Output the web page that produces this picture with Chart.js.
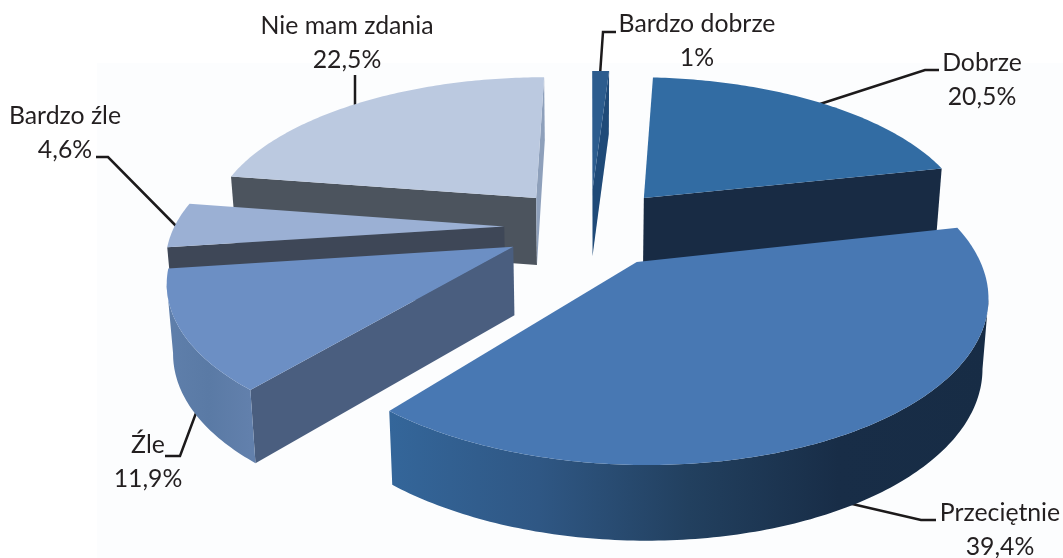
<!DOCTYPE html>
<html><head><meta charset="utf-8">
<style>html,body{margin:0;padding:0;background:#fff}#w{width:1063px;height:558px;position:relative}</style>
<script src="https://cdn.jsdelivr.net/npm/chart.js@4"></script>
</head><body><div id="w"><canvas id="c" width="1063" height="558"></canvas></div>
<script>
const categories = ["Bardzo dobrze","Dobrze","Przeciętnie","Źle","Bardzo źle","Nie mam zdania"];
const values = [1, 20.5, 39.4, 11.9, 4.6, 22.5];
const valueLabels = ["1%","20,5%","39,4%","11,9%","4,6%","22,5%"];
const topColors = ["#2c5c8e","#326ca3","#4878b3","#6c8fc4","#9bb0d4","#bbc9e0"];
const startWallColors = ["#1f4a78","#182b44","#1a3049","#4a5e7f","#3e4757","#4c545e"];
const endWallColors = ["#1f4a78","#182b44","#1a3049","#4a5e7f","#3e4757","#8ea0bb"];
const arcWallStops = [
  ["#2c5c8e","#2c5c8e"],["#1a3049","#1a3049"],
  ["#34669a","#2f5784","#22405f","#182d47","#172c45"],
  ["#5f7fab","#5a7aa5","#6280ac"],["#8096b8","#8096b8"],["#8ea0bb","#8ea0bb"]];
const drawOrder = [0,5,1,4,3,2];
// label layout: text centre x, first line baseline y, leader polyline
const labelX = [697,982,1000,148,65,347];
const labelY = [32,71,521,453,124,34];
const leaders = [
  [[600,75],[603,32],[616,32]],
  [[820,104],[925,70],[939,70]],
  [[835,500],[921,520],[936,520]],
  [[202,397],[180,456],[165,456]],
  [[182,232],[108,157],[96,157]],
  [[355,105],[355,75]]];

// projection of the pie disc
const cx=590, cy=227, R=330, RY=152, K=0.18, EXPLODE=0.26, DEPTH=68, SHRINK=0.985;
function proj(X,Y){const s=1/(1-K*Y);return {x:cx+R*X*s,y:cy+RY*Y*s,s};}
function low(p){return {x:cx+(p.x-cx)*SHRINK,y:p.y+DEPTH*(1+(p.s-1)*0.4)};}

const pie3d={id:'pie3d',
 beforeDatasetsDraw(chart){
  const ctx=chart.ctx, arcs=chart.getDatasetMeta(0).data;
  ctx.save();
  ctx.fillStyle='#fcfdfe'; ctx.fillRect(97,63,966,495);
  ctx.strokeStyle='#1c1a1b';ctx.lineWidth=2.5;ctx.lineJoin='miter';
  leaders.forEach(l=>{ctx.beginPath();l.forEach((p,j)=>j?ctx.lineTo(p[0],p[1]):ctx.moveTo(p[0],p[1]));ctx.stroke();});
  drawOrder.forEach(i=>{
    const a=arcs[i];
    const t0=a.startAngle+Math.PI/2, t1=a.endAngle+Math.PI/2, m=(t0+t1)/2;
    const ox=EXPLODE*Math.sin(m), oy=-EXPLODE*Math.cos(m);
    const apex=proj(ox,oy), rim=[], n=Math.max(4,Math.ceil((t1-t0)/0.015));
    for(let k=0;k<=n;k++){const t=t0+(t1-t0)*k/n;rim.push(proj(ox+Math.sin(t),oy-Math.cos(t)));}
    const xs=rim.map(p=>p.x), minX=Math.min(...xs), maxX=Math.max(...xs);
    const g=ctx.createLinearGradient(minX,0,maxX,0);
    const st=arcWallStops[i]; st.forEach((c,j)=>g.addColorStop(j/(st.length-1),c));
    const band=(pts,fill)=>{ctx.beginPath();pts.forEach((p,j)=>j?ctx.lineTo(p.x,p.y):ctx.moveTo(p.x,p.y));pts.slice().reverse().forEach(p=>{const l=low(p);ctx.lineTo(l.x,l.y);});ctx.closePath();ctx.fillStyle=fill;ctx.fill();};
    // only faces looking at the viewer
    if(rim[0].x<apex.x) band([apex,rim[0]],startWallColors[i]);
    let run=[];
    for(let k=0;k<n;k++){
      if(rim[k+1].x<rim[k].x){ if(!run.length) run.push(rim[k]); run.push(rim[k+1]); }
      else if(run.length){ band(run,g); run=[]; }
    }
    if(run.length) band(run,g);
    if(apex.x<rim[n].x) band([rim[n],apex],endWallColors[i]);
    ctx.beginPath();ctx.moveTo(apex.x,apex.y);rim.forEach(p=>ctx.lineTo(p.x,p.y));ctx.closePath();
    ctx.fillStyle=topColors[i];ctx.fill();
  });
  ctx.fillStyle='#231f20';ctx.font='24.8px Lato, Carlito, sans-serif';ctx.textAlign='center';ctx.textBaseline='alphabetic';
  categories.forEach((c,i)=>{ctx.fillText(c,labelX[i],labelY[i]);ctx.fillText(valueLabels[i],labelX[i],labelY[i]+33.5);});
  ctx.restore();
  return false;
 }};

new Chart(document.getElementById('c'),{
  type:'pie',
  data:{labels:categories,datasets:[{data:values,backgroundColor:topColors,borderWidth:0}]},
  options:{responsive:false,animation:false,rotation:0,
    plugins:{legend:{display:false},tooltip:{enabled:false}}},
  plugins:[pie3d]
});
</script></body></html>
